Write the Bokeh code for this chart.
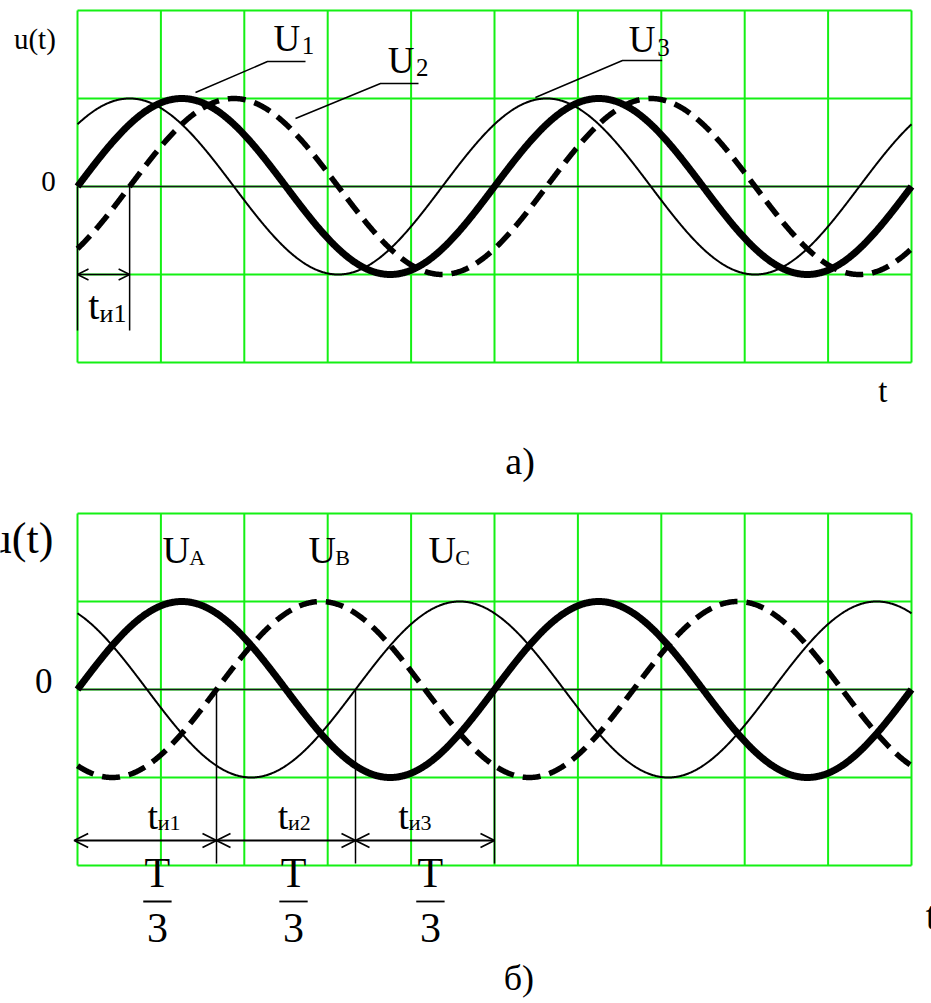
import numpy as np
from bokeh.plotting import figure
from bokeh.layouts import column
from bokeh.models import Arrow, OpenHead
from bokeh.core.properties import value
from bokeh.embed import file_html
from bokeh.resources import INLINE

# Oscilloscope screen: 10 time divisions, 4 amplitude divisions
time_divisions = list(range(0, 11))
amp_divisions = [-2, -1, 0, 1, 2]

period = 5.0        # divisions per cycle
amplitude = 1.0     # one division

# Panel а): three voltages shifted by T/8
top_names = ["1", "2", "3"]
top_shift = [0.0, -0.625, 0.625]          # divisions, positive = leading
top_style = ["thick", "dashed", "thin"]

# Panel б): three-phase system, phases T/3 apart
bottom_names = ["A", "B", "C"]
bottom_shift = [0.0, -5.0 / 3.0, -10.0 / 3.0]
bottom_style = ["thick", "dashed", "thin"]

FONT = value("Liberation Serif")
GREEN = "#14f014"
PX_T = 83.4    # pixels per time division
PX_U = 88.0    # pixels per amplitude division
BASELINE_SHIFT = 0.3375   # em, puts the glyph baseline on the given y

STYLES = {
    "thick": dict(line_width=7, line_dash="solid"),
    "dashed": dict(line_width=5.5, line_dash="18 9"),
    "thin": dict(line_width=2, line_dash="solid"),
}


def hbar(p, xa, xb, y, color="black", width_px=1.6):
    # horizontal rule drawn as a thin filled strip
    h = width_px / PX_U / 2
    p.quad(left=[xa], right=[xb], bottom=[y - h], top=[y + h],
           fill_color=color, line_color=None)


def make_panel(height):
    x0 = -77 / PX_T
    x1 = time_divisions[-1] + 20 / PX_T
    y1 = amp_divisions[-1] + 10 / PX_U
    y0 = y1 - height / PX_U
    p = figure(width=931, height=height, x_range=(x0, x1), y_range=(y0, y1),
               output_backend="svg", toolbar_location=None,
               x_axis_location=None, y_axis_location=None,
               min_border_left=0, min_border_right=0,
               min_border_top=0, min_border_bottom=0)
    p.grid.visible = False
    p.outline_line_color = None
    p.background_fill_color = "white"
    p.border_fill_color = "white"
    # screen grid
    t_lo, t_hi = time_divisions[0], time_divisions[-1]
    u_lo, u_hi = amp_divisions[0], amp_divisions[-1]
    p.segment(x0=time_divisions, x1=time_divisions,
              y0=[u_lo] * len(time_divisions), y1=[u_hi] * len(time_divisions),
              line_color=GREEN, line_width=2)
    p.segment(x0=[t_lo] * len(amp_divisions), x1=[t_hi] * len(amp_divisions),
              y0=amp_divisions, y1=amp_divisions,
              line_color=GREEN, line_width=2)
    # zero line
    hbar(p, t_lo, t_hi, 0, color="#1a1a1a", width_px=1.6)
    return p


def draw_waves(p, shifts, styles):
    t = np.linspace(time_divisions[0], time_divisions[-1], 1201)
    for sh, st in zip(shifts, styles):
        u = amplitude * np.sin(2 * np.pi * (t + sh) / period)
        p.line(t, u, line_color="black", line_join="round", **STYLES[st])


def txt(p, x, y, s, size, align="left"):
    y = y + BASELINE_SHIFT * size / PX_U
    p.text(x=[x], y=[y], text=[s], text_font=FONT, text_font_size=f"{size}px",
           text_align=align, text_baseline="alphabetic", text_color="black")


def double_arrow(p, xa, xb, y, size=12, lw=1.5):
    p.add_layout(Arrow(start=OpenHead(size=size, line_width=lw),
                       end=OpenHead(size=size, line_width=lw),
                       x_start=xa, y_start=y, x_end=xb, y_end=y,
                       line_width=lw, line_color="black"))


# ---------------- panel а) ----------------
p1 = make_panel(503)
draw_waves(p1, top_shift, top_style)

txt(p1, -0.26, 1.57, "u(t)", 29, "right")
txt(p1, -0.26, -0.05, "0", 29, "right")

# curve labels with leader lines
top_label_pos = [(2.35, 1.545), (3.72, 1.295), (6.61, 1.523)]
top_leaders = [
    ([1.415, 2.278, 2.734], [1.068, 1.42, 1.42]),
    ([2.614, 3.633, 4.089], [0.773, 1.17, 1.17]),
    ([5.49, 6.535, 7.01], [1.011, 1.432, 1.432]),
]
for name, (lx, ly), (xs, ys) in zip(top_names, top_label_pos, top_leaders):
    txt(p1, lx, ly, "U", 37)
    txt(p1, lx + 0.34, ly - 0.035, name, 25)
    p1.line(xs, ys, line_color="black", line_width=1.5)

# delay of U2 relative to U1
delay = -top_shift[1]
p1.segment(x0=[0, delay], x1=[0, delay], y0=[0, 0], y1=[-1.636, -1.636],
           line_color="black", line_width=1.5)
double_arrow(p1, 0, delay, -1.0, size=11)
txt(p1, 0.13, -1.5, "t", 40)
txt(p1, 0.265, -1.545, "и1", 26)

txt(p1, 9.6, -2.455, "t", 33)
txt(p1, 5.13, -3.26, "а)", 38)

# ---------------- panel б) ----------------
p2 = make_panel(500)
draw_waves(p2, bottom_shift, bottom_style)

txt(p2, -0.29, 1.545, "u(t)", 44, "right")
txt(p2, -0.30, -0.034, "0", 35, "right")

bottom_label_x = [1.02, 2.77, 4.21]
for name, lx in zip(bottom_names, bottom_label_x):
    txt(p2, lx, 1.443, "U", 38)
    txt(p2, lx + 0.32, 1.41, name, 22)

# phase-to-phase intervals of T/3
marks = [-s for s in bottom_shift[1:]] + [period]
p2.segment(x0=marks, x1=marks, y0=[0] * 3, y1=[-1.977] * 3,
           line_color="black", line_width=1.5)
starts = [-0.04] + marks[:-1]
for i, (a, b) in enumerate(zip(starts, marks)):
    double_arrow(p2, a, b, -1.716, size=14, lw=1.8)
    mid = (max(a, 0) + b) / 2
    lx = mid + [0.005, -0.10, -0.32][i]
    txt(p2, lx, -1.58, "t", 38)
    txt(p2, lx + 0.125, -1.60, f"и{i + 1}", 22)
    fx = mid + [0.125, 0.09, 0.065][i]
    txt(p2, fx, -2.25, "T", 42, "center")
    hbar(p2, fx - 0.17, fx + 0.17, -2.409, width_px=1.8)
    txt(p2, fx, -2.875, "3", 42, "center")

txt(p2, 10.17, -2.716, "t", 40)
txt(p2, 5.11, -3.42, "б)", 36)

layout = column(p1, p2, spacing=0)
open("out.html", "w").write(file_html(layout, INLINE))
